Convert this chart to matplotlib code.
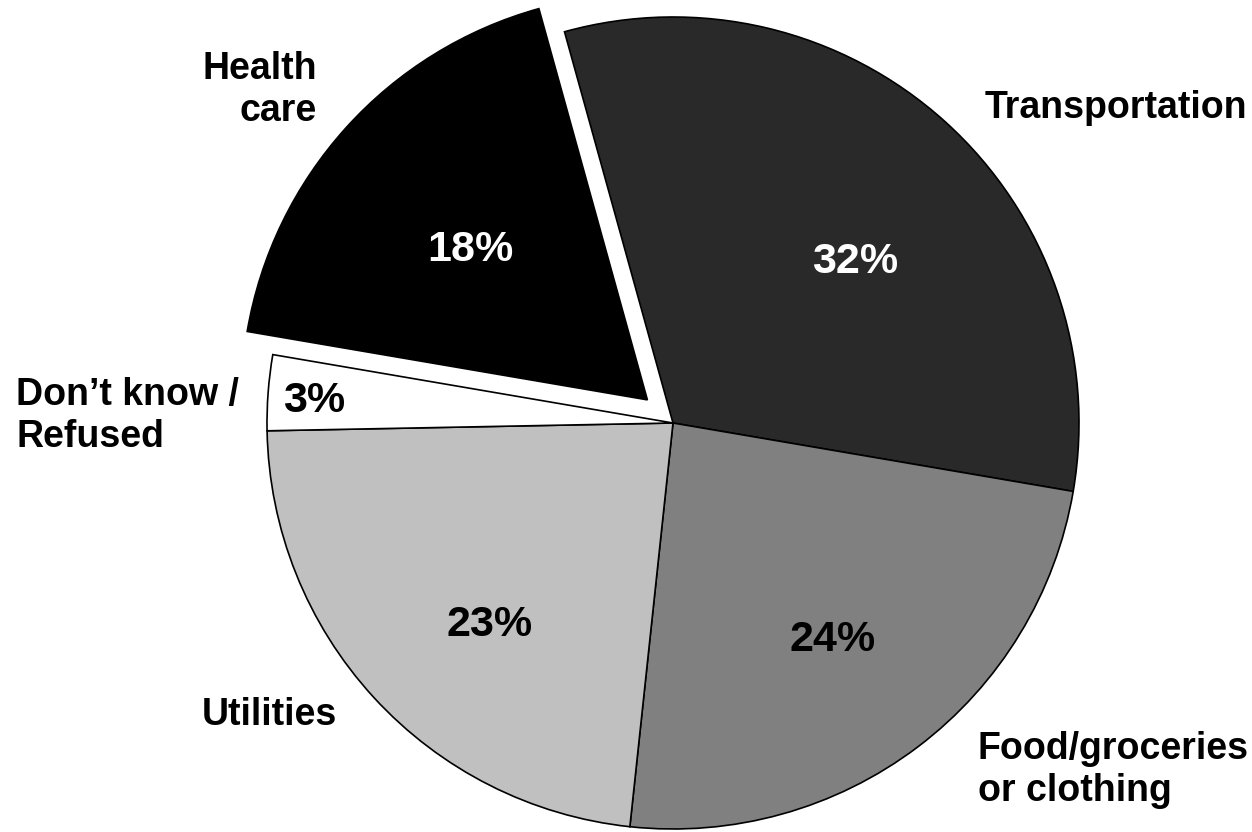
import matplotlib.pyplot as plt

# survey shares, going clockwise from the top
categories = ["Transportation", "Food/groceries\nor clothing", "Utilities",
              "Don\u2019t know /\nRefused", "Health care"]
shares = [32, 24, 23, 3, 18]
colors = ["#292929", "#808080", "#c0c0c0", "#ffffff", "#000000"]
pct_colors = ["white", "black", "black", "black", "white"]
explode = [0, 0, 0, 0, 0.085]

# label layout (data coords, pie radius = 1)
pct_pos = [(0.448, 0.397), (0.394, -0.534), (-0.451, -0.498), (-0.884, 0.054), (-0.50, 0.426)]
label_text = ["Transportation", "Food/groceries\nor clothing", "Utilities",
              "Don\u2019t know /\nRefused", "Health\ncare"]
label_pos = [(1.091, 0.776), (0.751, -0.855), (-0.993, -0.719), (-1.618, 0.017), (-0.877, 0.820)]
label_ha = ["center", "left", "center", "left", "right"]

plt.rcParams["font.family"] = ["Liberation Sans", "DejaVu Sans"]
plt.rcParams["font.weight"] = "bold"

fig = plt.figure(figsize=(12.52, 8.32), dpi=100)
ax = fig.add_axes([0, 0, 1, 1])

wedges, texts, autotexts = ax.pie(
    shares,
    colors=colors,
    explode=explode,
    startangle=105.5,
    counterclock=False,
    radius=1,
    autopct="%d%%",
    wedgeprops=dict(edgecolor="black", linewidth=1.2),
    textprops=dict(fontsize=31, fontweight="bold"),
)

for t, pos, c in zip(autotexts, pct_pos, pct_colors):
    t.set_position(pos)
    t.set_color(c)
    t.set_ha("center")
    t.set_va("center")

for txt, pos, ha in zip(label_text, label_pos, label_ha):
    ax.text(pos[0], pos[1], txt, ha=ha, va="center", fontsize=27,
            fontweight="bold", linespacing=1.2)

ax.set_xlim(-673 / 406, (1252 - 673) / 406)
ax.set_ylim((423 - 832) / 406, 423 / 406)
ax.set_aspect("auto")
ax.axis("off")

fig.savefig("out.png", dpi=100, facecolor="white")
